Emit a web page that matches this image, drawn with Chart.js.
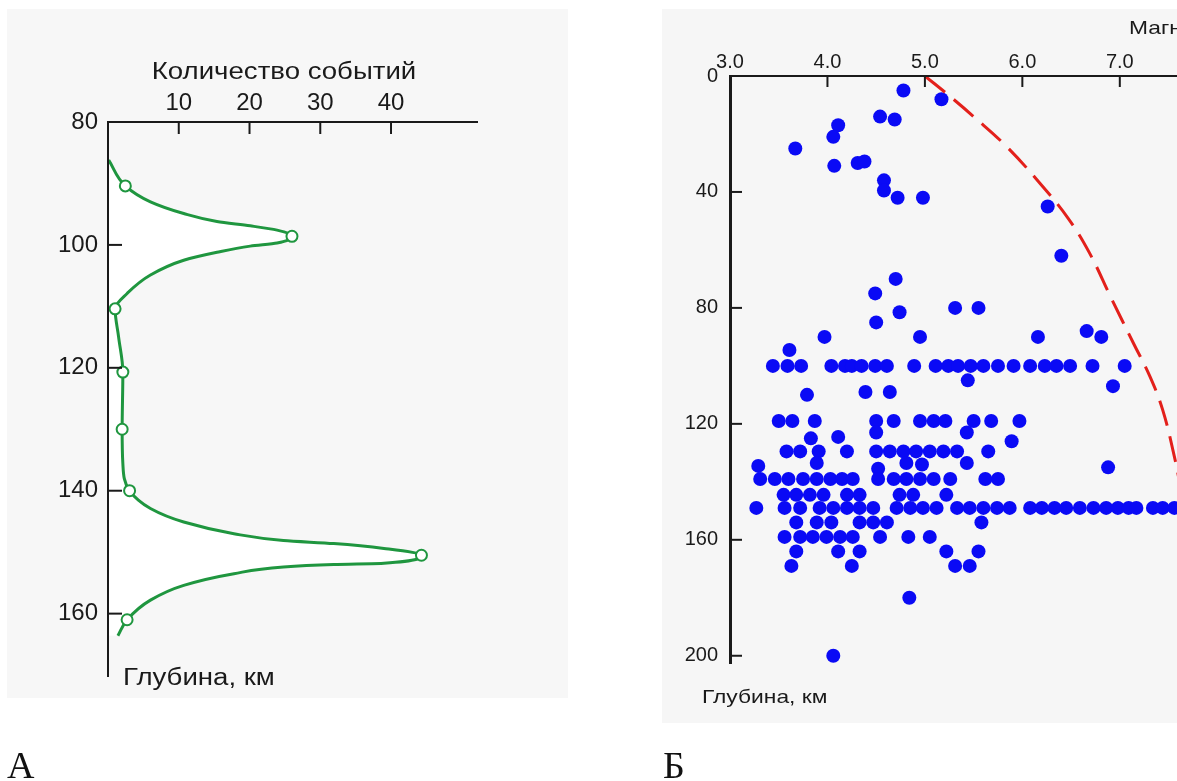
<!DOCTYPE html>
<html><head><meta charset="utf-8">
<script src="https://cdn.jsdelivr.net/npm/chart.js@4.4.1/dist/chart.umd.min.js"></script>
<style>
html,body{margin:0;padding:0;background:#fff;width:1177px;height:781px;overflow:hidden;position:relative}
#bgA{position:absolute;left:7px;top:9px;width:561px;height:689px;background:#f7f7f7}
#bgB{position:absolute;left:662px;top:9px;width:515px;height:714px;background:#f6f6f6}
#cA{position:absolute;left:0;top:0}
#cB{position:absolute;left:600px;top:0}
.lbl{position:absolute;font-family:"Liberation Serif","Times New Roman",serif;font-size:38px;color:#111;line-height:38px}
</style></head><body>
<div id="bgA"></div><div id="bgB"></div>
<canvas id="cA" width="520" height="781"></canvas>
<canvas id="cB" width="647" height="781"></canvas>
<div class="lbl" style="left:7px;top:746px">А</div>
<div class="lbl" style="left:663px;top:746px">Б</div>
<script>
// ---------- Panel A: number of events vs depth ----------
const countTicks = [10, 20, 30, 40];
const depthTicksA = [80, 100, 120, 140, 160];
const curveCount = [0.1, 2.45, 6.0, 10.7, 15.4, 20.1, 23.9, 26.0, 23.9, 20.1, 15.4, 10.7, 6.0, 2.7, 1.0,
  1.5, 2.1, 2.0, 2.1, 3.05, 6.0, 10.7, 17.8, 24.8, 31.9, 39.0, 44.3, 39.0, 31.9, 24.8, 17.8, 10.7, 6.0, 2.7, 1.4];
const curveDepth = [86.2, 90.4, 93.0, 94.9, 96.2, 96.9, 97.6, 98.6, 99.7, 100.2, 101.2, 102.5, 104.9, 107.9, 110.4,
  115, 120.7, 130, 135.6, 140, 142.9, 145.1, 147, 148.1, 148.6, 149.4, 150.5, 151.8, 152, 152.4, 153.5, 155.4, 157.8, 161, 163.6];
const markerCount = [2.45, 26.0, 1.0, 2.1, 2.0, 3.05, 44.3, 2.7];
const markerDepth = [90.4, 98.6, 110.4, 120.7, 130, 140, 150.5, 161];

// ---------- Panel B: magnitude vs depth ----------
const magTicks = [3, 4, 5, 6, 7, 8];
const depthTicksB = [0, 40, 80, 120, 160, 200];
const eventMag = [
  4.78,5.17,4.54,4.69,4.11,4.06,3.67,4.07,4.31,4.38,4.58,4.58,4.72,4.98,6.26,6.40,
  4.70,4.49,4.74,4.50,5.31,5.55,3.97,4.95,6.16,6.66,6.81,3.61,
  3.44,3.59,3.73,4.04,4.18,4.25,4.35,4.49,4.61,4.89,5.11,5.24,5.34,5.47,5.60,5.75,5.91,6.08,6.23,6.35,6.49,6.72,7.05,
  5.44,6.93,3.79,4.39,4.64,
  3.50,3.64,3.87,4.50,4.68,4.95,5.09,5.21,5.50,5.68,5.97,
  4.50,5.43,3.83,4.11,5.89,
  3.58,3.72,3.91,4.20,4.50,4.64,4.78,4.91,5.05,5.19,5.33,5.65,
  3.89,5.43,6.88,3.29,4.52,4.81,4.97,
  3.31,3.46,3.60,3.75,3.89,4.03,4.15,4.26,4.52,4.68,4.81,4.95,5.09,5.26,5.62,5.75,
  3.55,3.68,3.82,3.96,4.20,4.33,4.74,4.88,5.22,
  3.27,3.56,3.72,3.92,4.06,4.20,4.33,4.47,4.71,4.85,4.98,5.12,5.33,5.46,5.60,5.74,5.87,6.08,6.20,6.33,6.45,6.59,6.73,6.86,6.98,7.09,7.17,7.34,7.44,7.56,
  3.68,3.89,4.04,4.33,4.47,4.61,5.58,
  3.56,3.72,3.85,3.99,4.13,4.26,4.54,4.83,5.05,
  3.68,4.11,4.33,5.22,5.55,
  3.63,4.25,5.31,5.46,
  4.84,4.06
];
const eventDepth = [
  5,8,14,15,17,21,25,31,30,29.5,36,39.5,42,42,45,62,
  70,75,81.5,85,80,80,90,90,90,88,90,94.5,
  100,100,100,100,100,100,100,100,100,100,100,100,100,100,100,100,100,100,100,100,100,100,100,
  105,107,110,109,109,
  119,119,119,119,119,119,119,119,119,119,119,
  123,123,125,124.5,126,
  129.5,129.5,129.5,129.5,129.5,129.5,129.5,129.5,129.5,129.5,129.5,129.5,
  133.5,133.5,135,134.5,135.5,133.5,134,
  139,139,139,139,139,139,139,139,139,139,139,139,139,139,139,139,
  144.5,144.5,144.5,144.5,144.5,144.5,144.5,144.5,144.5,
  149,149,149,149,149,149,149,149,149,149,149,149,149,149,149,149,149,149,149,149,149,149,149,149,149,149,149,149,149,149,
  154,154,154,154,154,154,154,
  159,159,159,159,159,159,159,159,159,
  164,164,164,164,164,
  169,169,169,169,
  180,200
];
const boundMag = [5.0, 5.26, 5.50, 5.84, 6.18, 6.47, 6.69, 6.91, 7.14, 7.31, 7.44, 7.56, 7.64];
const boundDepth = [0, 7.1, 14.0, 24.4, 37.0, 49.1, 61.1, 76.5, 92.2, 103.7, 115.2, 131.3, 145];

const FONT = '"Liberation Sans", Arial, sans-serif';
const INK = '#1a1a1a';
const GREEN = '#1f963f';
Chart.defaults.font.family = FONT;
Chart.defaults.color = INK;

function decor(cfg) {
  return {
    id: 'decor',
    afterDraw(chart) {
      const {ctx, chartArea: a, scales} = chart;
      ctx.save();
      ctx.strokeStyle = INK;
      ctx.lineWidth = 2;
      cfg.xTicks.forEach(v => {
        const p = scales.x.getPixelForValue(v);
        ctx.beginPath(); ctx.moveTo(p, a.top); ctx.lineTo(p, a.top + cfg.xLen); ctx.stroke();
      });
      cfg.yTicks.forEach(v => {
        const p = scales.y.getPixelForValue(v);
        ctx.beginPath(); ctx.moveTo(a.left, p); ctx.lineTo(a.left + cfg.yLen, p); ctx.stroke();
      });
      cfg.texts.forEach(t => {
        ctx.save();
        ctx.font = t.size + 'px ' + FONT;
        ctx.fillStyle = INK;
        ctx.textAlign = t.align;
        ctx.textBaseline = 'middle';
        ctx.translate(t.x, t.y);
        ctx.scale(1.2, 1);
        ctx.fillText(t.text, 0, 0);
        ctx.restore();
      });
      ctx.restore();
    }
  };
}

// ---------- Chart A ----------
new Chart(document.getElementById('cA'), {
  type: 'line',
  data: {
    datasets: [
      {
        label: 'Замеры',
        data: markerCount.map((c, i) => ({x: c, y: markerDepth[i]})),
        showLine: false,
        pointStyle: 'circle',
        pointRadius: 5.5,
        pointBackgroundColor: '#ffffff',
        pointBorderColor: GREEN,
        pointBorderWidth: 2
      },
      {
        label: 'Количество событий',
        data: curveCount.map((c, i) => ({x: c, y: curveDepth[i]})),
        borderColor: GREEN,
        borderWidth: 3,
        pointRadius: 0,
        cubicInterpolationMode: 'monotone',
        fill: 'origin',
        backgroundColor: '#ffffff'
      }
    ]
  },
  options: {
    indexAxis: 'y',
    responsive: false,
    maintainAspectRatio: false,
    animation: false,
    devicePixelRatio: 1,
    layout: {padding: {left: 0, top: 0, right: 43, bottom: 105}},
    plugins: {legend: {display: false}, tooltip: {enabled: false}},
    scales: {
      x: {
        type: 'linear', position: 'top', min: 0, max: 52.15,
        grid: {display: false, drawTicks: false},
        border: {display: true, color: INK, width: 2, z: 1},
        ticks: {font: {size: 24}, color: INK, padding: 4, callback: v => String(v)},
        afterBuildTicks: s => { s.ticks = countTicks.map(v => ({value: v})); },
        afterFit: s => { s.height = 122; }
      },
      y: {
        type: 'linear', position: 'left', reverse: true, min: 80, max: 170.15,
        grid: {display: false, drawTicks: false},
        border: {display: true, color: INK, width: 2, z: 1},
        ticks: {font: {size: 24}, color: INK, padding: 10, callback: v => String(v)},
        afterBuildTicks: s => { s.ticks = depthTicksA.map(v => ({value: v})); },
        afterFit: s => { s.width = 108; }
      }
    }
  },
  plugins: [decor({
    xTicks: countTicks, xLen: 12,
    yTicks: depthTicksA.slice(1), yLen: 14,
    texts: [
      {text: 'Количество событий', x: 284, y: 73, size: 23, align: 'center'},
      {text: 'Глубина, км', x: 123, y: 679, size: 23, align: 'left'}
    ]
  })]
});

// ---------- Chart B ----------
new Chart(document.getElementById('cB'), {
  type: 'scatter',
  data: {
    datasets: [
      {
        label: 'Граница',
        data: boundMag.map((m, i) => ({x: m, y: boundDepth[i]})),
        showLine: true,
        borderColor: '#e3201b',
        borderWidth: 3,
        borderDash: [26, 11],
        pointRadius: 0,
        tension: 0.4,
        fill: false
      },
      {
        label: 'События',
        data: eventMag.map((m, i) => ({x: m, y: eventDepth[i]})),
        pointStyle: 'circle',
        pointRadius: 7,
        pointBackgroundColor: '#0a0af5',
        pointBorderWidth: 0,
        pointBorderColor: '#0a0af5'
      }
    ]
  },
  options: {
    responsive: false,
    maintainAspectRatio: false,
    animation: false,
    devicePixelRatio: 1,
    layout: {padding: {left: 0, top: 0, right: 20, bottom: 118}},
    plugins: {legend: {display: false}, tooltip: {enabled: false}},
    scales: {
      x: {
        type: 'linear', position: 'top', min: 3, max: 8.1,
        grid: {display: false, drawTicks: false},
        border: {display: true, color: INK, width: 2, z: 1},
        ticks: {font: {size: 20}, color: INK, padding: 2, callback: v => Number(v).toFixed(1)},
        afterBuildTicks: s => { s.ticks = magTicks.map(v => ({value: v})); },
        afterFit: s => { s.height = 76; }
      },
      y: {
        type: 'linear', position: 'left', reverse: true, min: 0, max: 202.5,
        grid: {display: false, drawTicks: false},
        border: {display: true, color: INK, width: 3, z: 1},
        ticks: {font: {size: 20}, color: INK, padding: 12, callback: v => String(v)},
        afterBuildTicks: s => { s.ticks = depthTicksB.map(v => ({value: v})); },
        afterFit: s => { s.width = 130; }
      }
    }
  },
  plugins: [decor({
    xTicks: magTicks.slice(1), xLen: 11,
    yTicks: depthTicksB.slice(1), yLen: 12,
    texts: [
      {text: 'Магнитуда', x: 529, y: 29, size: 19, align: 'left'},
      {text: 'Глубина, км', x: 102, y: 698, size: 19, align: 'left'}
    ]
  })]
});
</script>
</body></html>
